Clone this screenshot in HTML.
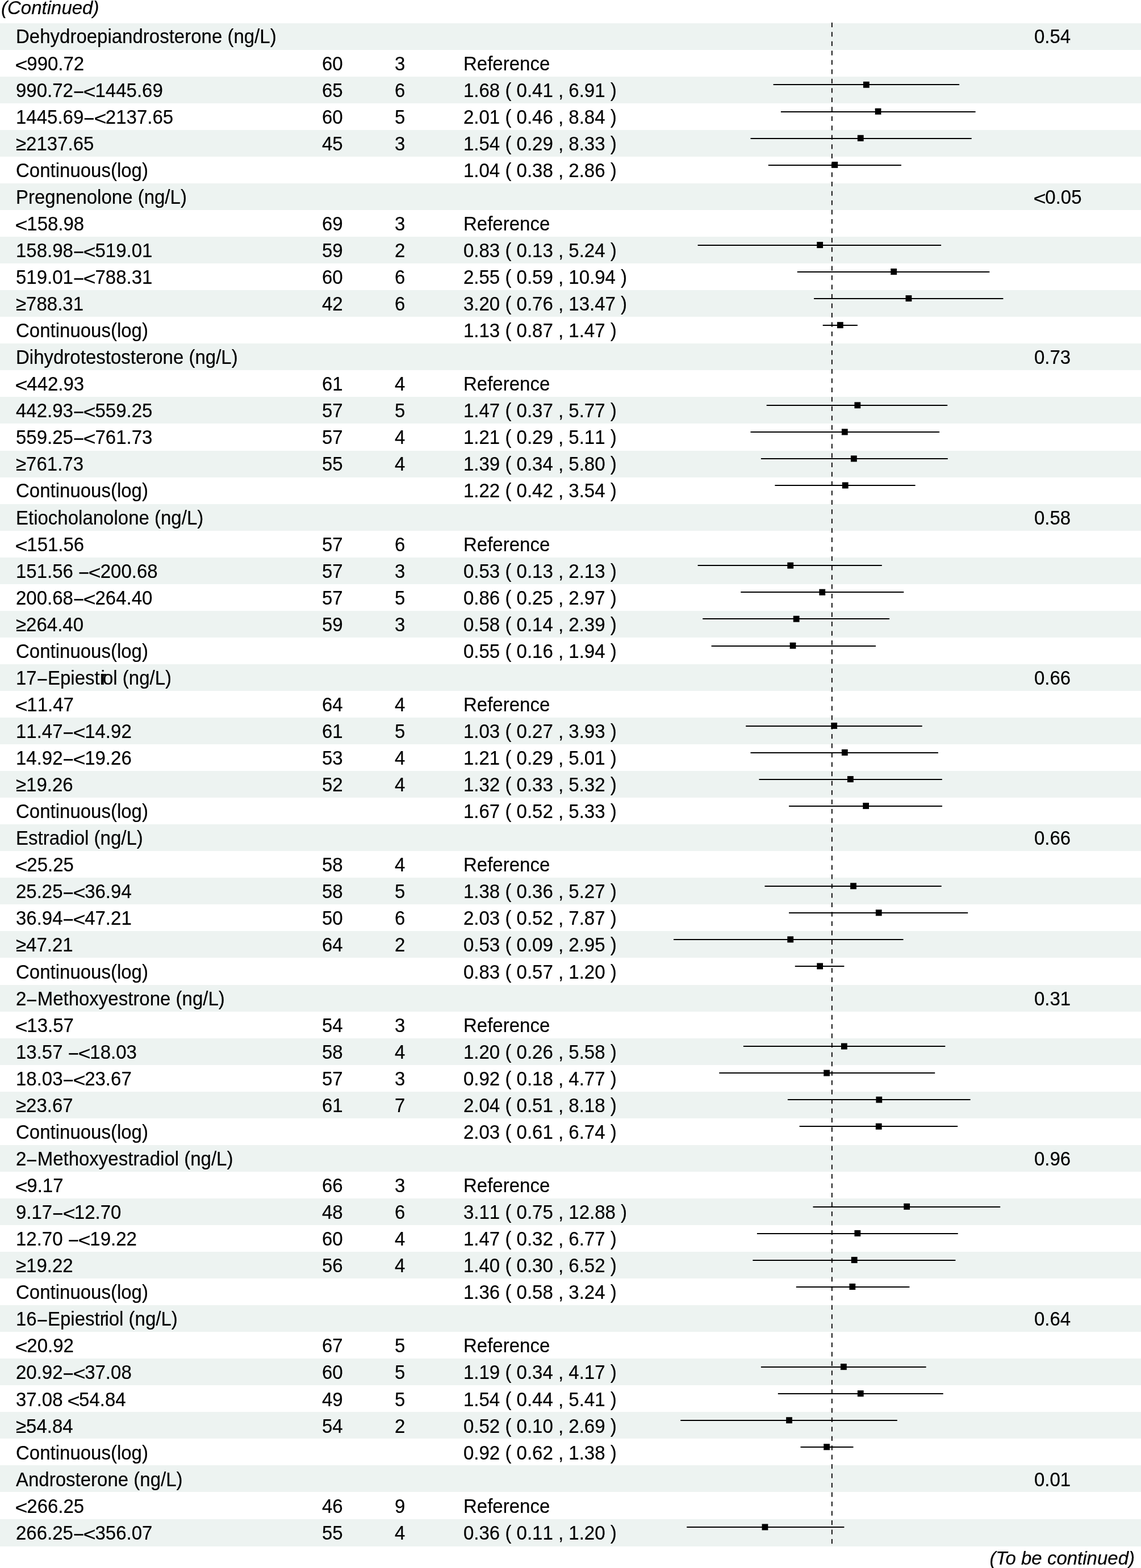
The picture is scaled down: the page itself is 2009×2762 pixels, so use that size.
<!DOCTYPE html>
<html lang="en">
<head>
<meta charset="utf-8">
<title>Forest plot (continued)</title>
<style>
html,body{margin:0;padding:0;background:#fff}
body{width:2009px;height:2762px;position:relative;overflow:hidden;font-family:"Liberation Sans",Arial,Helvetica,sans-serif;font-size:33px;line-height:1;color:#000;font-kerning:none;font-variant-ligatures:none;-webkit-text-stroke:0.2px #000}
.band{position:absolute;left:0;width:2009px;background:#edf3f1}
.row{position:absolute;left:0;width:2009px;height:33px}
.row span,.cap{position:absolute;top:0;white-space:pre;transform:scaleY(1.06);transform-origin:0 28px}
.c1{left:28px}.c2{left:567px}.c3{left:695px}.c4{left:816px}.c5{left:1821px}
.cap{font-style:italic;font-kerning:normal;transform:none}
i{font-style:normal;display:inline-block}
.m{transform:translateY(2.5px) scaleY(1.08)}
.l{transform:translateY(2.7px) scale(1.15,0.94)}
b{font-weight:normal}.k1{letter-spacing:-9.3px}.k2{letter-spacing:-3.8px}.k3{letter-spacing:-2.3px}
svg{position:absolute;left:0;top:0}
</style>
</head>
<body>
<div class="band" style="top:41px;height:47px"></div>
<div class="band" style="top:135px;height:47px"></div>
<div class="band" style="top:229px;height:47px"></div>
<div class="band" style="top:323px;height:47px"></div>
<div class="band" style="top:417px;height:47px"></div>
<div class="band" style="top:511px;height:47px"></div>
<div class="band" style="top:605px;height:47px"></div>
<div class="band" style="top:699px;height:47px"></div>
<div class="band" style="top:794px;height:47px"></div>
<div class="band" style="top:888px;height:47px"></div>
<div class="band" style="top:982px;height:47px"></div>
<div class="band" style="top:1076px;height:47px"></div>
<div class="band" style="top:1170px;height:47px"></div>
<div class="band" style="top:1264px;height:47px"></div>
<div class="band" style="top:1358px;height:47px"></div>
<div class="band" style="top:1452px;height:47px"></div>
<div class="band" style="top:1546px;height:47px"></div>
<div class="band" style="top:1640px;height:47px"></div>
<div class="band" style="top:1735px;height:47px"></div>
<div class="band" style="top:1829px;height:47px"></div>
<div class="band" style="top:1923px;height:47px"></div>
<div class="band" style="top:2017px;height:47px"></div>
<div class="band" style="top:2111px;height:47px"></div>
<div class="band" style="top:2205px;height:47px"></div>
<div class="band" style="top:2299px;height:47px"></div>
<div class="band" style="top:2393px;height:47px"></div>
<div class="band" style="top:2487px;height:47px"></div>
<div class="band" style="top:2581px;height:47px"></div>
<div class="band" style="top:2676px;height:48px"></div>
<div class="cap" style="left:2px;top:-3px">(Continued)</div>
<div class="row" style="top:48px"><span class="c1">Dehydroepiandrosterone (ng/L)</span><span class="c5">0.54</span></div>
<div class="row" style="top:96px"><span class="c1"><i class="l">&lt;</i>990.72</span><span class="c2">60</span><span class="c3">3</span><span class="c4">Reference</span></div>
<div class="row" style="top:143px"><span class="c1">990.72<i class="m">−</i><i class="l">&lt;</i>1445.69</span><span class="c2">65</span><span class="c3">6</span><span class="c4">1.68 ( 0.41 , 6.91 )</span></div>
<div class="row" style="top:190px"><span class="c1">1445.69<i class="m">−</i><i class="l">&lt;</i>2137.65</span><span class="c2">60</span><span class="c3">5</span><span class="c4">2.01 ( 0.46 , 8.84 )</span></div>
<div class="row" style="top:237px"><span class="c1">≥2137.65</span><span class="c2">45</span><span class="c3">3</span><span class="c4">1.54 ( 0.29 , 8.33 )</span></div>
<div class="row" style="top:284px"><span class="c1">Continuous(log)</span><span class="c4">1.04 ( 0.38 , 2.86 )</span></div>
<div class="row" style="top:331px"><span class="c1">Pregnenolone (ng/L)</span><span class="c5"><i class="l">&lt;</i>0.05</span></div>
<div class="row" style="top:378px"><span class="c1"><i class="l">&lt;</i>158.98</span><span class="c2">69</span><span class="c3">3</span><span class="c4">Reference</span></div>
<div class="row" style="top:425px"><span class="c1">158.98<i class="m">−</i><i class="l">&lt;</i>519.01</span><span class="c2">59</span><span class="c3">2</span><span class="c4">0.83 ( 0.13 , 5.24 )</span></div>
<div class="row" style="top:472px"><span class="c1">519.01<i class="m">−</i><i class="l">&lt;</i>788.31</span><span class="c2">60</span><span class="c3">6</span><span class="c4">2.55 ( 0.59 , 10.94 )</span></div>
<div class="row" style="top:519px"><span class="c1">≥788.31</span><span class="c2">42</span><span class="c3">6</span><span class="c4">3.20 ( 0.76 , 13.47 )</span></div>
<div class="row" style="top:566px"><span class="c1">Continuous(log)</span><span class="c4">1.13 ( 0.87 , 1.47 )</span></div>
<div class="row" style="top:613px"><span class="c1">Dihydrotestosterone (ng/L)</span><span class="c5">0.73</span></div>
<div class="row" style="top:660px"><span class="c1"><i class="l">&lt;</i>442.93</span><span class="c2">61</span><span class="c3">4</span><span class="c4">Reference</span></div>
<div class="row" style="top:707px"><span class="c1">442.93<i class="m">−</i><i class="l">&lt;</i>559.25</span><span class="c2">57</span><span class="c3">5</span><span class="c4">1.47 ( 0.37 , 5.77 )</span></div>
<div class="row" style="top:754px"><span class="c1">559.25<i class="m">−</i><i class="l">&lt;</i>761.73</span><span class="c2">57</span><span class="c3">4</span><span class="c4">1.21 ( 0.29 , 5.11 )</span></div>
<div class="row" style="top:801px"><span class="c1">≥761.73</span><span class="c2">55</span><span class="c3">4</span><span class="c4">1.39 ( 0.34 , 5.80 )</span></div>
<div class="row" style="top:848px"><span class="c1">Continuous(log)</span><span class="c4">1.22 ( 0.42 , 3.54 )</span></div>
<div class="row" style="top:896px"><span class="c1">Etiocholanolone (ng/L)</span><span class="c5">0.58</span></div>
<div class="row" style="top:943px"><span class="c1"><i class="l">&lt;</i>151.56</span><span class="c2">57</span><span class="c3">6</span><span class="c4">Reference</span></div>
<div class="row" style="top:990px"><span class="c1">151.56 <i class="m">−</i><i class="l">&lt;</i>200.68</span><span class="c2">57</span><span class="c3">3</span><span class="c4">0.53 ( 0.13 , 2.13 )</span></div>
<div class="row" style="top:1037px"><span class="c1">200.68<i class="m">−</i><i class="l">&lt;</i>264.40</span><span class="c2">57</span><span class="c3">5</span><span class="c4">0.86 ( 0.25 , 2.97 )</span></div>
<div class="row" style="top:1084px"><span class="c1">≥264.40</span><span class="c2">59</span><span class="c3">3</span><span class="c4">0.58 ( 0.14 , 2.39 )</span></div>
<div class="row" style="top:1131px"><span class="c1">Continuous(log)</span><span class="c4">0.55 ( 0.16 , 1.94 )</span></div>
<div class="row" style="top:1178px"><span class="c1">17<i class="m">−</i>Epiest<b class="k1">r</b><b class="k2">i</b>ol (ng/L)</span><span class="c5">0.66</span></div>
<div class="row" style="top:1225px"><span class="c1"><i class="l">&lt;</i>11.47</span><span class="c2">64</span><span class="c3">4</span><span class="c4">Reference</span></div>
<div class="row" style="top:1272px"><span class="c1">11.47<i class="m">−</i><i class="l">&lt;</i>14.92</span><span class="c2">61</span><span class="c3">5</span><span class="c4">1.03 ( 0.27 , 3.93 )</span></div>
<div class="row" style="top:1319px"><span class="c1">14.92<i class="m">−</i><i class="l">&lt;</i>19.26</span><span class="c2">53</span><span class="c3">4</span><span class="c4">1.21 ( 0.29 , 5.01 )</span></div>
<div class="row" style="top:1366px"><span class="c1">≥19.26</span><span class="c2">52</span><span class="c3">4</span><span class="c4">1.32 ( 0.33 , 5.32 )</span></div>
<div class="row" style="top:1413px"><span class="c1">Continuous(log)</span><span class="c4">1.67 ( 0.52 , 5.33 )</span></div>
<div class="row" style="top:1460px"><span class="c1">Estradiol (ng/L)</span><span class="c5">0.66</span></div>
<div class="row" style="top:1507px"><span class="c1"><i class="l">&lt;</i>25.25</span><span class="c2">58</span><span class="c3">4</span><span class="c4">Reference</span></div>
<div class="row" style="top:1554px"><span class="c1">25.25<i class="m">−</i><i class="l">&lt;</i>36.94</span><span class="c2">58</span><span class="c3">5</span><span class="c4">1.38 ( 0.36 , 5.27 )</span></div>
<div class="row" style="top:1601px"><span class="c1">36.94<i class="m">−</i><i class="l">&lt;</i>47.21</span><span class="c2">50</span><span class="c3">6</span><span class="c4">2.03 ( 0.52 , 7.87 )</span></div>
<div class="row" style="top:1648px"><span class="c1">≥47.21</span><span class="c2">64</span><span class="c3">2</span><span class="c4">0.53 ( 0.09 , 2.95 )</span></div>
<div class="row" style="top:1696px"><span class="c1">Continuous(log)</span><span class="c4">0.83 ( 0.57 , 1.20 )</span></div>
<div class="row" style="top:1743px"><span class="c1">2<i class="m">−</i>Methoxyestrone (ng/L)</span><span class="c5">0.31</span></div>
<div class="row" style="top:1790px"><span class="c1"><i class="l">&lt;</i>13.57</span><span class="c2">54</span><span class="c3">3</span><span class="c4">Reference</span></div>
<div class="row" style="top:1837px"><span class="c1">13.57 <i class="m">−</i><i class="l">&lt;</i>18.03</span><span class="c2">58</span><span class="c3">4</span><span class="c4">1.20 ( 0.26 , 5.58 )</span></div>
<div class="row" style="top:1884px"><span class="c1">18.03<i class="m">−</i><i class="l">&lt;</i>23.67</span><span class="c2">57</span><span class="c3">3</span><span class="c4">0.92 ( 0.18 , 4.77 )</span></div>
<div class="row" style="top:1931px"><span class="c1">≥23.67</span><span class="c2">61</span><span class="c3">7</span><span class="c4">2.04 ( 0.51 , 8.18 )</span></div>
<div class="row" style="top:1978px"><span class="c1">Continuous(log)</span><span class="c4">2.03 ( 0.61 , 6.74 )</span></div>
<div class="row" style="top:2025px"><span class="c1">2<i class="m">−</i>Methoxyestradiol (ng/L)</span><span class="c5">0.96</span></div>
<div class="row" style="top:2072px"><span class="c1"><i class="l">&lt;</i>9.17</span><span class="c2">66</span><span class="c3">3</span><span class="c4">Reference</span></div>
<div class="row" style="top:2119px"><span class="c1">9.17<i class="m">−</i><i class="l">&lt;</i>12.70</span><span class="c2">48</span><span class="c3">6</span><span class="c4">3.11 ( 0.75 , 12.88 )</span></div>
<div class="row" style="top:2166px"><span class="c1">12.70 <i class="m">−</i><i class="l">&lt;</i>19.22</span><span class="c2">60</span><span class="c3">4</span><span class="c4">1.47 ( 0.32 , 6.77 )</span></div>
<div class="row" style="top:2213px"><span class="c1">≥19.22</span><span class="c2">56</span><span class="c3">4</span><span class="c4">1.40 ( 0.30 , 6.52 )</span></div>
<div class="row" style="top:2260px"><span class="c1">Continuous(log)</span><span class="c4">1.36 ( 0.58 , 3.24 )</span></div>
<div class="row" style="top:2307px"><span class="c1">16<i class="m">−</i>Epiest<b class="k3">r</b>iol (ng/L)</span><span class="c5">0.64</span></div>
<div class="row" style="top:2354px"><span class="c1"><i class="l">&lt;</i>20.92</span><span class="c2">67</span><span class="c3">5</span><span class="c4">Reference</span></div>
<div class="row" style="top:2401px"><span class="c1">20.92<i class="m">−</i><i class="l">&lt;</i>37.08</span><span class="c2">60</span><span class="c3">5</span><span class="c4">1.19 ( 0.34 , 4.17 )</span></div>
<div class="row" style="top:2449px"><span class="c1">37.08 <i class="l">&lt;</i>54.84</span><span class="c2">49</span><span class="c3">5</span><span class="c4">1.54 ( 0.44 , 5.41 )</span></div>
<div class="row" style="top:2496px"><span class="c1">≥54.84</span><span class="c2">54</span><span class="c3">2</span><span class="c4">0.52 ( 0.10 , 2.69 )</span></div>
<div class="row" style="top:2543px"><span class="c1">Continuous(log)</span><span class="c4">0.92 ( 0.62 , 1.38 )</span></div>
<div class="row" style="top:2590px"><span class="c1">Androsterone (ng/L)</span><span class="c5">0.01</span></div>
<div class="row" style="top:2637px"><span class="c1"><i class="l">&lt;</i>266.25</span><span class="c2">46</span><span class="c3">9</span><span class="c4">Reference</span></div>
<div class="row" style="top:2684px"><span class="c1">266.25<i class="m">−</i><i class="l">&lt;</i>356.07</span><span class="c2">55</span><span class="c3">4</span><span class="c4">0.36 ( 0.11 , 1.20 )</span></div>
<div class="cap" style="left:auto;right:11px;top:2728px">(To be continued)</div>
<svg width="2009" height="2762" viewBox="0 0 2009 2762">
<line x1="1464.85" y1="39.8" x2="1464.85" y2="2724" stroke="#111" stroke-width="2" stroke-dasharray="8.25 8.239"/>
<line x1="1361.6" y1="149" x2="1689.1" y2="149" stroke="#000" stroke-width="2"/>
<rect x="1519.93" y="143.73" width="10.8" height="11" fill="#000"/>
<line x1="1374.9" y1="197" x2="1717.6" y2="197" stroke="#000" stroke-width="2"/>
<rect x="1540.69" y="190.78" width="10.8" height="11" fill="#000"/>
<line x1="1321.5" y1="244" x2="1710.7" y2="244" stroke="#000" stroke-width="2"/>
<rect x="1509.85" y="237.83" width="10.8" height="11" fill="#000"/>
<line x1="1352.8" y1="291" x2="1586.9" y2="291" stroke="#000" stroke-width="2"/>
<rect x="1464.39" y="284.88" width="10.8" height="11" fill="#000"/>
<line x1="1228.6" y1="432" x2="1657.1" y2="432" stroke="#000" stroke-width="2"/>
<rect x="1438.27" y="426.03" width="10.8" height="11" fill="#000"/>
<line x1="1403.8" y1="479" x2="1742.3" y2="479" stroke="#000" stroke-width="2"/>
<rect x="1568.25" y="473.08" width="10.8" height="11" fill="#000"/>
<line x1="1433.1" y1="526" x2="1766.4" y2="526" stroke="#000" stroke-width="2"/>
<rect x="1594.54" y="520.13" width="10.8" height="11" fill="#000"/>
<line x1="1448.7" y1="573" x2="1509.9" y2="573" stroke="#000" stroke-width="2"/>
<rect x="1474.00" y="567.18" width="10.8" height="11" fill="#000"/>
<line x1="1349.7" y1="714" x2="1668.2" y2="714" stroke="#000" stroke-width="2"/>
<rect x="1504.46" y="708.33" width="10.8" height="11" fill="#000"/>
<line x1="1321.5" y1="761" x2="1654.1" y2="761" stroke="#000" stroke-width="2"/>
<rect x="1481.92" y="755.38" width="10.8" height="11" fill="#000"/>
<line x1="1339.9" y1="808" x2="1668.8" y2="808" stroke="#000" stroke-width="2"/>
<rect x="1497.98" y="802.43" width="10.8" height="11" fill="#000"/>
<line x1="1364.4" y1="855" x2="1611.6" y2="855" stroke="#000" stroke-width="2"/>
<rect x="1482.88" y="849.48" width="10.8" height="11" fill="#000"/>
<line x1="1228.6" y1="996" x2="1552.8" y2="996" stroke="#000" stroke-width="2"/>
<rect x="1386.33" y="990.63" width="10.8" height="11" fill="#000"/>
<line x1="1304.3" y1="1043" x2="1591.3" y2="1043" stroke="#000" stroke-width="2"/>
<rect x="1442.38" y="1037.68" width="10.8" height="11" fill="#000"/>
<line x1="1237.2" y1="1090" x2="1566.1" y2="1090" stroke="#000" stroke-width="2"/>
<rect x="1396.77" y="1084.73" width="10.8" height="11" fill="#000"/>
<line x1="1252.6" y1="1138" x2="1542.0" y2="1138" stroke="#000" stroke-width="2"/>
<rect x="1390.62" y="1131.78" width="10.8" height="11" fill="#000"/>
<line x1="1313.2" y1="1279" x2="1623.7" y2="1279" stroke="#000" stroke-width="2"/>
<rect x="1463.27" y="1272.93" width="10.8" height="11" fill="#000"/>
<line x1="1321.5" y1="1326" x2="1651.9" y2="1326" stroke="#000" stroke-width="2"/>
<rect x="1481.92" y="1319.98" width="10.8" height="11" fill="#000"/>
<line x1="1336.5" y1="1373" x2="1658.8" y2="1373" stroke="#000" stroke-width="2"/>
<rect x="1492.00" y="1367.03" width="10.8" height="11" fill="#000"/>
<line x1="1389.1" y1="1420" x2="1659.0" y2="1420" stroke="#000" stroke-width="2"/>
<rect x="1519.23" y="1414.08" width="10.8" height="11" fill="#000"/>
<line x1="1346.5" y1="1561" x2="1657.7" y2="1561" stroke="#000" stroke-width="2"/>
<rect x="1497.15" y="1555.23" width="10.8" height="11" fill="#000"/>
<line x1="1389.1" y1="1608" x2="1704.2" y2="1608" stroke="#000" stroke-width="2"/>
<rect x="1541.84" y="1602.28" width="10.8" height="11" fill="#000"/>
<line x1="1186.0" y1="1655" x2="1590.5" y2="1655" stroke="#000" stroke-width="2"/>
<rect x="1386.33" y="1649.33" width="10.8" height="11" fill="#000"/>
<line x1="1399.8" y1="1702" x2="1486.4" y2="1702" stroke="#000" stroke-width="2"/>
<rect x="1438.27" y="1696.38" width="10.8" height="11" fill="#000"/>
<line x1="1308.9" y1="1843" x2="1664.3" y2="1843" stroke="#000" stroke-width="2"/>
<rect x="1480.96" y="1837.53" width="10.8" height="11" fill="#000"/>
<line x1="1266.3" y1="1890" x2="1646.2" y2="1890" stroke="#000" stroke-width="2"/>
<rect x="1450.19" y="1884.58" width="10.8" height="11" fill="#000"/>
<line x1="1386.9" y1="1937" x2="1708.6" y2="1937" stroke="#000" stroke-width="2"/>
<rect x="1542.41" y="1931.63" width="10.8" height="11" fill="#000"/>
<line x1="1407.6" y1="1984" x2="1686.2" y2="1984" stroke="#000" stroke-width="2"/>
<rect x="1541.84" y="1978.68" width="10.8" height="11" fill="#000"/>
<line x1="1431.5" y1="2126" x2="1761.2" y2="2126" stroke="#000" stroke-width="2"/>
<rect x="1591.24" y="2119.83" width="10.8" height="11" fill="#000"/>
<line x1="1332.9" y1="2173" x2="1686.7" y2="2173" stroke="#000" stroke-width="2"/>
<rect x="1504.46" y="2166.88" width="10.8" height="11" fill="#000"/>
<line x1="1325.4" y1="2220" x2="1682.4" y2="2220" stroke="#000" stroke-width="2"/>
<rect x="1498.81" y="2213.93" width="10.8" height="11" fill="#000"/>
<line x1="1401.8" y1="2267" x2="1601.4" y2="2267" stroke="#000" stroke-width="2"/>
<rect x="1495.46" y="2260.98" width="10.8" height="11" fill="#000"/>
<line x1="1339.9" y1="2408" x2="1630.6" y2="2408" stroke="#000" stroke-width="2"/>
<rect x="1479.99" y="2402.13" width="10.8" height="11" fill="#000"/>
<line x1="1369.8" y1="2455" x2="1660.7" y2="2455" stroke="#000" stroke-width="2"/>
<rect x="1509.85" y="2449.18" width="10.8" height="11" fill="#000"/>
<line x1="1198.2" y1="2502" x2="1579.8" y2="2502" stroke="#000" stroke-width="2"/>
<rect x="1384.13" y="2496.23" width="10.8" height="11" fill="#000"/>
<line x1="1409.5" y1="2549" x2="1502.5" y2="2549" stroke="#000" stroke-width="2"/>
<rect x="1450.19" y="2543.28" width="10.8" height="11" fill="#000"/>
<line x1="1209.2" y1="2690" x2="1486.4" y2="2690" stroke="#000" stroke-width="2"/>
<rect x="1341.54" y="2684.43" width="10.8" height="11" fill="#000"/>
</svg>
</body>
</html>
